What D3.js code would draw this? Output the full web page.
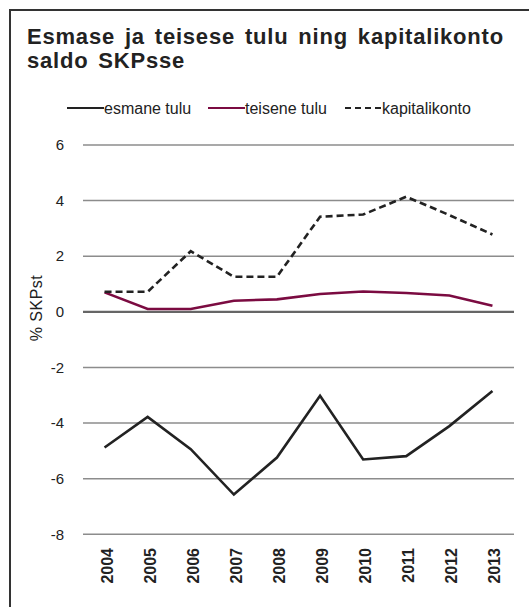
<!DOCTYPE html>
<html lang="et">
<head>
<meta charset="UTF-8">
<title>Esmase ja teisese tulu ning kapitalikonto saldo SKPsse</title>
<script src="https://cdn.jsdelivr.net/npm/d3@7"></script>
<style>
    body { margin: 0; background: #fff; }
    svg { display: block; font-family: "Liberation Sans", Arial, sans-serif; }
    .grid line { stroke: #8c8c8c; stroke-width: 1.5; }
    .grid .zero { stroke: #666; stroke-width: 2.2; }
</style>
</head>
<body>
<svg id="chart" width="529" height="607"></svg>
<script>
    // data
    let years = ["2004", "2005", "2006", "2007", "2008", "2009", "2010", "2011", "2012", "2013"];
    let esmane = [-4.88, -3.78, -4.94, -6.57, -5.24, -3.02, -5.31, -5.19, -4.11, -2.85];
    let teisene = [0.70, 0.10, 0.10, 0.40, 0.45, 0.64, 0.73, 0.68, 0.59, 0.22];
    let kapital = [0.72, 0.72, 2.18, 1.26, 1.26, 3.42, 3.50, 4.14, 3.48, 2.78];
    let yTicks = [6, 4, 2, 0, -2, -4, -6, -8];

    let svg = d3.select("#chart");

    // frame: top and left edge
    svg.append("path")
        .attr("d", "M10,607 L10,10 L529,10")
        .attr("fill", "none")
        .attr("stroke", "#333")
        .attr("stroke-width", 2);

    // title
    let title = svg.append("text")
        .attr("x", 27)
        .attr("y", 44)
        .attr("font-size", 22)
        .attr("font-weight", "bold")
        .attr("letter-spacing", 0.8)
        .attr("word-spacing", 3)
        .attr("fill", "#222");
    title.append("tspan").attr("x", 27).text("Esmase ja teisese tulu ning kapitalikonto");
    title.append("tspan").attr("x", 27).attr("dy", 24).text("saldo SKPsse");

    let x = d3.scaleBand().domain(years).range([83, 514]);
    let y = d3.scaleLinear().domain([-8, 6]).range([534.3, 145]);

    // gridlines
    svg.append("g").attr("class", "grid")
        .selectAll("line")
        .data(yTicks)
        .join("line")
        .attr("class", d => d === 0 ? "zero" : null)
        .attr("x1", 83).attr("x2", 514)
        .attr("y1", d => y(d)).attr("y2", d => y(d));

    // y tick labels
    svg.append("g")
        .selectAll("text")
        .data(yTicks)
        .join("text")
        .attr("x", 64)
        .attr("y", d => y(d))
        .attr("dy", "0.35em")
        .attr("text-anchor", "end")
        .attr("font-size", 15)
        .attr("fill", "#222")
        .text(d => d);

    // y axis label
    svg.append("text")
        .attr("transform", "translate(42,308) rotate(-90)")
        .attr("text-anchor", "middle")
        .attr("font-size", 16)
        .attr("letter-spacing", 0.5)
        .attr("fill", "#222")
        .text("% SKPst");

    // x labels
    svg.append("g")
        .selectAll("text")
        .data(years)
        .join("text")
        .attr("transform", d => `translate(${x(d) + x.bandwidth() / 2 + 8},548) rotate(-90)`)
        .attr("text-anchor", "end")
        .attr("font-size", 16)
        .attr("font-weight", "bold")
        .attr("fill", "#222")
        .text(d => d);

    let line = d3.line()
        .x((d, i) => x(years[i]) + x.bandwidth() / 2)
        .y(d => y(d));

    let series = [
        { name: "esmane tulu", values: esmane, color: "#222", dash: null },
        { name: "teisene tulu", values: teisene, color: "#7b0b41", dash: null },
        { name: "kapitalikonto", values: kapital, color: "#222", dash: "7,4" }
    ];

    svg.append("g")
        .selectAll("path")
        .data(series)
        .join("path")
        .attr("d", d => line(d.values))
        .attr("fill", "none")
        .attr("stroke", d => d.color)
        .attr("stroke-width", 2.6)
        .attr("stroke-dasharray", d => d.dash);

    // legend
    let legendX = [67, 208, 345];
    let leg = svg.append("g")
        .selectAll("g")
        .data(series)
        .join("g")
        .attr("transform", (d, i) => `translate(${legendX[i]},108)`);
    leg.append("line")
        .attr("x1", 0).attr("x2", 37)
        .attr("stroke", d => d.color)
        .attr("stroke-width", 2.2)
        .attr("stroke-dasharray", d => d.dash ? "6,4" : null);
    leg.append("text")
        .attr("x", 37)
        .attr("dy", "0.35em")
        .attr("font-size", 16)
        .attr("fill", "#222")
        .text(d => d.name);
</script>
</body>
</html>
